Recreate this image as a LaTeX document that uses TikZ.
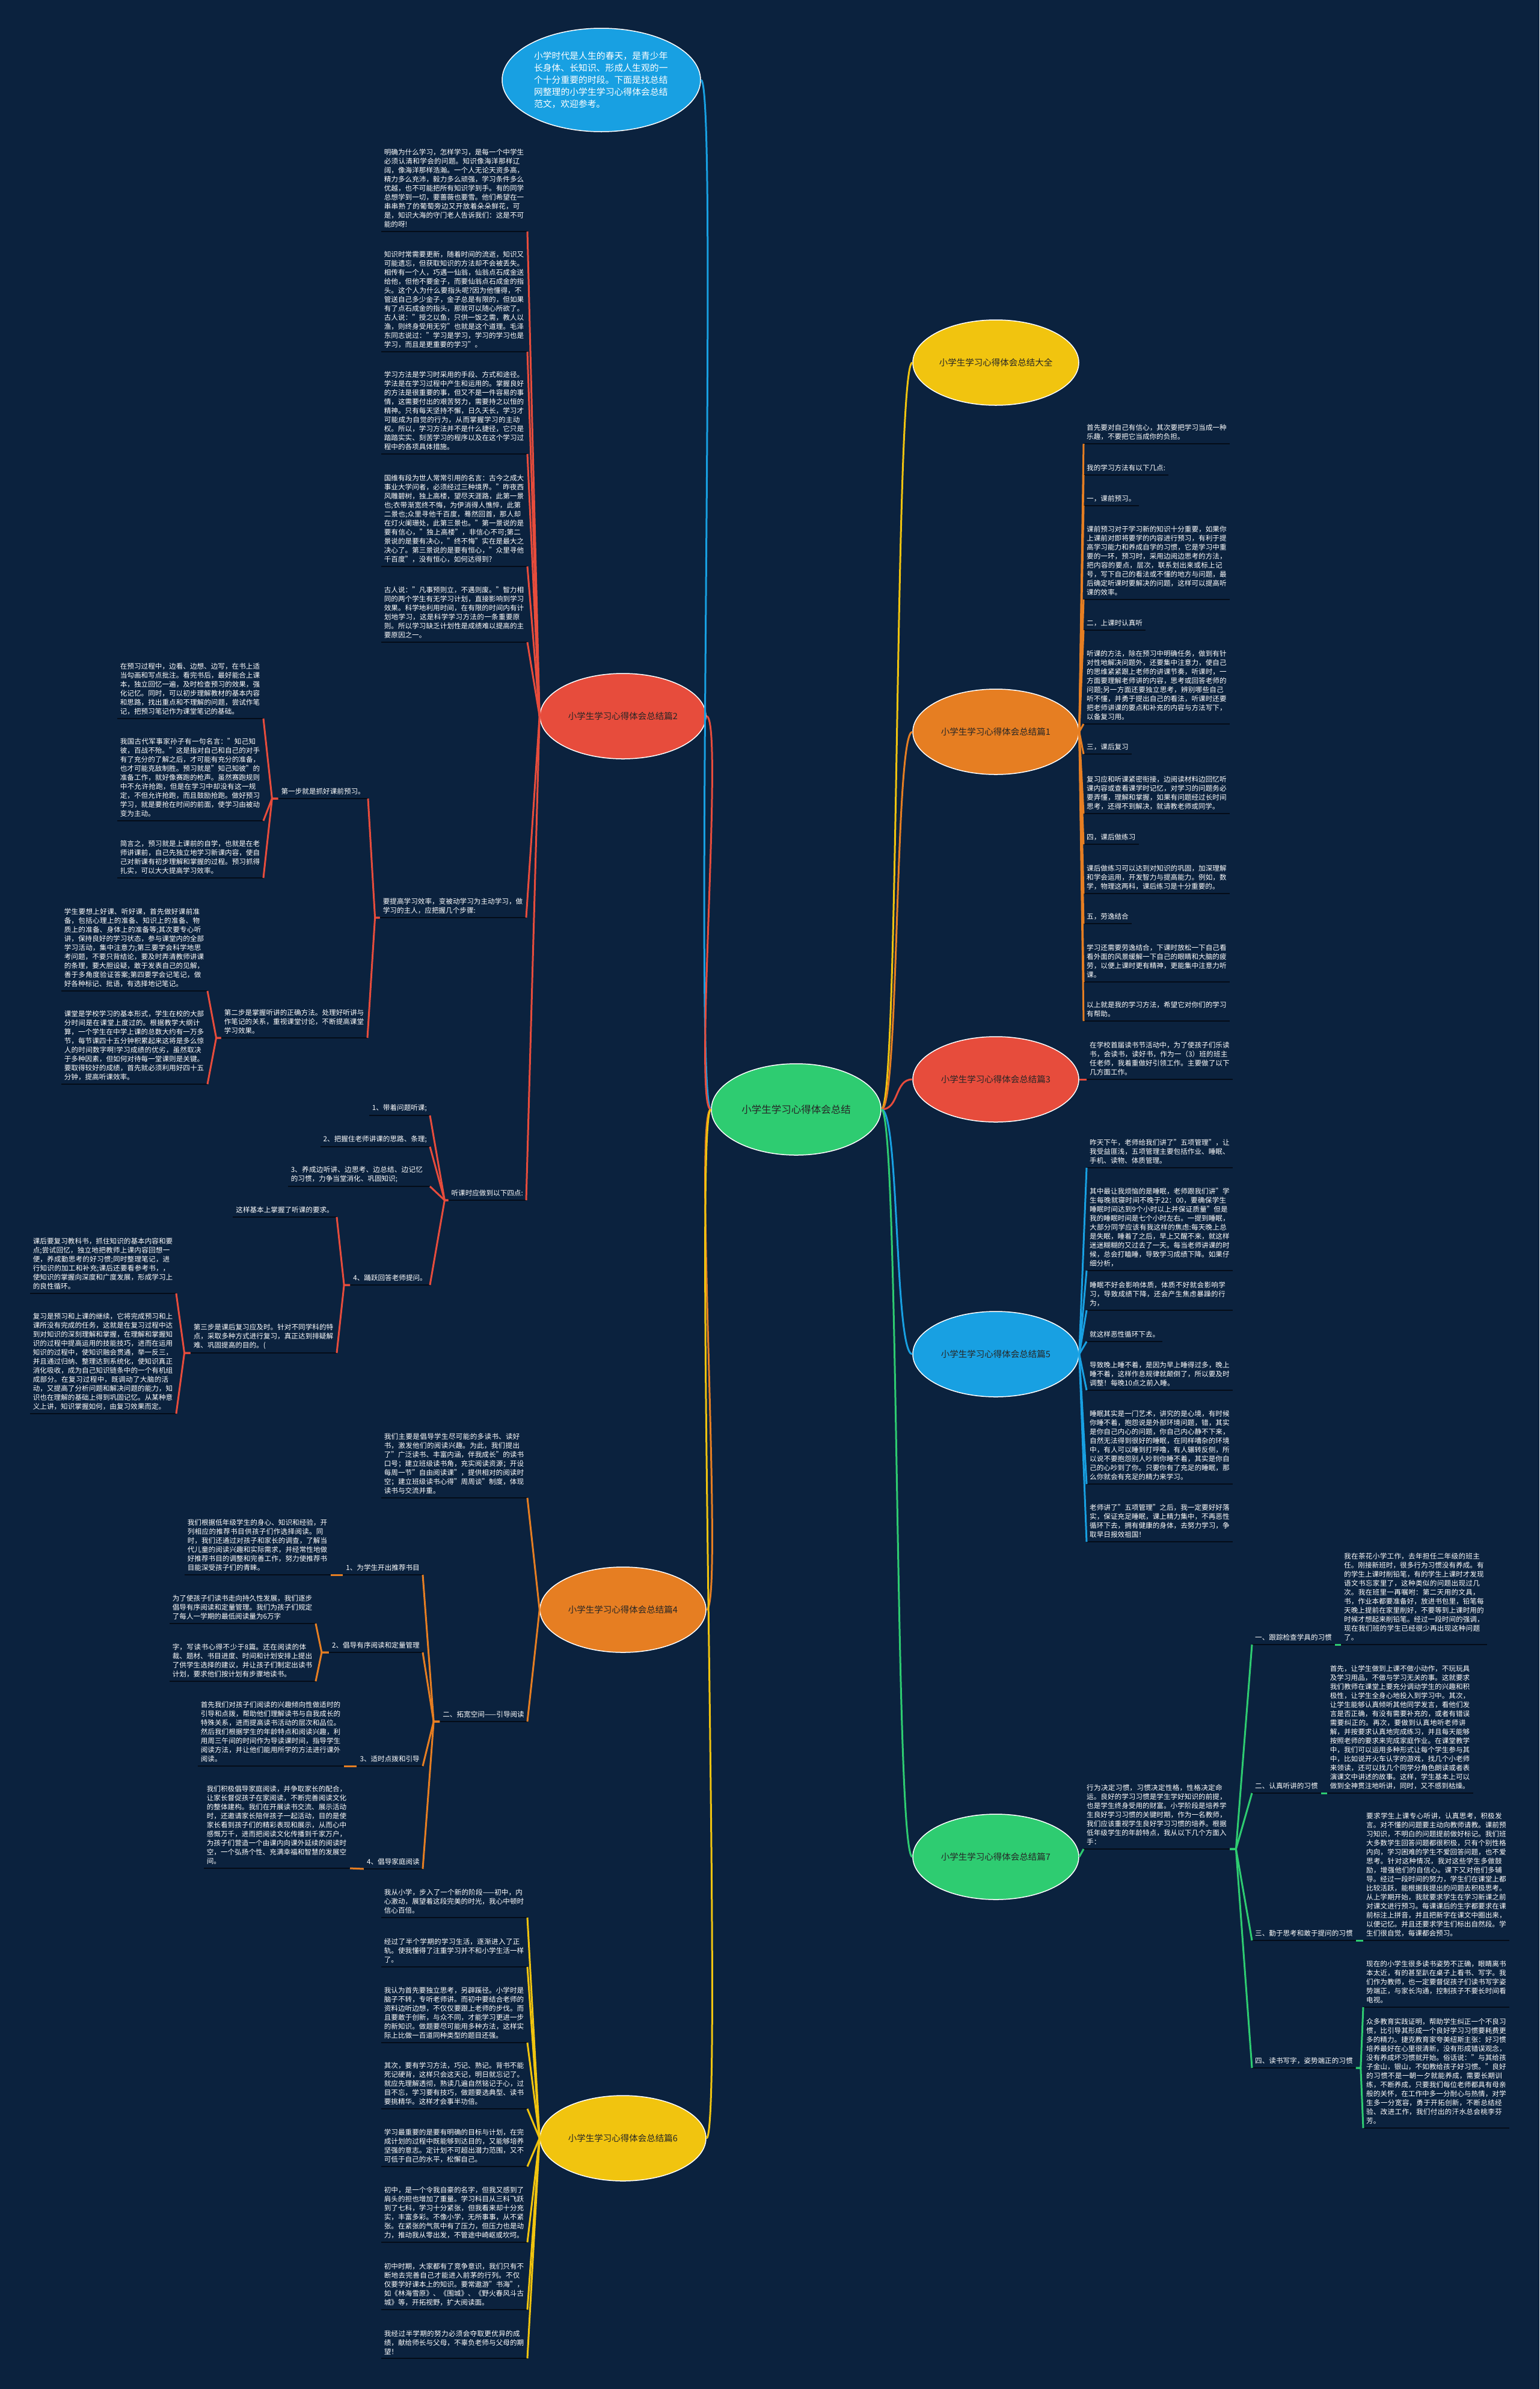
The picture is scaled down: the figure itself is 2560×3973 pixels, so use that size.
\documentclass[tikz,border=0pt]{standalone}
\usepackage{fontspec}
\setmainfont{Noto Sans CJK SC}
\usetikzlibrary{shapes.geometric}
\XeTeXlinebreaklocale "zh"
\XeTeXlinebreakskip=0pt plus 1pt

\definecolor{bgnavy}{RGB}{11,34,62}
\definecolor{ulblack}{RGB}{4,12,24}
\definecolor{cgreen}{RGB}{46,204,113}
\definecolor{cblue}{RGB}{24,160,226}
\definecolor{cyellow}{RGB}{241,196,15}
\definecolor{corange}{RGB}{230,126,34}
\definecolor{cred}{RGB}{231,76,60}

\tikzset{
  topic/.style={ellipse,draw=white,line width=1.5pt,minimum width=276pt,
    minimum height=142pt,inner sep=0pt,text=black!85,
    font=\fontsize{14.5}{18}\selectfont},
  ul/.style={append after command={\pgfextra{\draw[ulblack,line width=2.5pt]
    (\tikzlastnode.south west) -- (\tikzlastnode.south east);}}},
  tag/.style={ul,text=white,inner xsep=5pt,inner ysep=6pt,
    font=\fontsize{11.6}{15}\selectfont},
  leaf/.style={tag,text width=233pt,align=left},
  lk/.style={line width=3pt}
}

\begin{document}
\begin{tikzpicture}[x=1pt,y=-1pt]
\fill[bgnavy] (0,0) rectangle (2560,3973);
\useasboundingbox (0,0) rectangle (2560,3973);

% centre and topics
\node[topic,fill=cgreen,minimum width=282pt,minimum height=152pt,
  font=\fontsize{16.5}{20}\selectfont] (ctr) at (1324,1845) {小学生学习心得体会总结};
\node[ellipse,fill=cblue,draw=white,line width=1.5pt,minimum width=330pt,
  minimum height=172pt,inner sep=0pt,text=white,text width=224pt,align=left,
  font=\fontsize{14.8}{20}\selectfont] (intro) at (1000,133)
  {小学时代是人生的春天，是青少年长身体、长知识、形成人生观的一个十分重要的时段。下面是找总结网整理的小学生学习心得体会总结范文，欢迎参考。};
\node[topic,fill=cyellow] (p0) at (1656,603) {小学生学习心得体会总结大全};
\node[topic,fill=corange] (p1) at (1656,1217) {小学生学习心得体会总结篇1};
\node[topic,fill=cred] (p3) at (1656,1795) {小学生学习心得体会总结篇3};
\node[topic,fill=cblue] (p5) at (1656,2252) {小学生学习心得体会总结篇5};
\node[topic,fill=cgreen] (p7) at (1656,3088) {小学生学习心得体会总结篇7};
\node[topic,fill=cred] (p2) at (1036,1191) {小学生学习心得体会总结篇2};
\node[topic,fill=corange] (p4) at (1036,2677) {小学生学习心得体会总结篇4};
\node[topic,fill=cyellow] (p6) at (1036,3556) {小学生学习心得体会总结篇6};

\draw[lk,cblue] (ctr.west) .. controls +(-30,0) and +(30,0) .. (intro.east);
\foreach \t/\c in {p2/cred,p4/corange,p6/cyellow}
  \draw[lk,\c] (ctr.west) .. controls +(-30,0) and +(30,0) .. (\t.east);
\foreach \t/\c in {p0/cyellow,p1/corange,p3/cred,p5/cblue,p7/cgreen}
  \draw[lk,\c] (ctr.east) .. controls +(30,0) and +(-30,0) .. (\t.west);

% 篇2
\node[leaf,anchor=south east] (b1) at (877,385) {明确为什么学习，怎样学习，是每一个中学生必须认清和学会的问题。知识像海洋那样辽阔，像海洋那样浩瀚。一个人无论天资多高，精力多么充沛，毅力多么顽强，学习条件多么优越，也不可能把所有知识学到手。有的同学总想学到一切，要蔷薇也要雪。他们希望在一串串熟了的葡萄旁边又开放着朵朵鲜花，可是，知识大海的守门老人告诉我们：这是不可能的呀!};
\node[leaf,anchor=south east] (b2) at (877,585) {知识时常需要更新，随着时间的流逝，知识又可能遗忘，但获取知识的方法却不会被丢失。相传有一个人，巧遇一仙翁，仙翁点石成金送给他，但他不要金子，而要仙翁点石成金的指头。这个人为什么要指头呢?因为他懂得，不管送自己多少金子，金子总是有限的，但如果有了点石成金的指头，那就可以随心所欲了。古人说："授之以鱼，只供一饭之需，教人以渔，则终身受用无穷"也就是这个道理。毛泽东同志说过："学习是学习，学习的学习也是学习，而且是更重要的学习"。};
\node[leaf,anchor=south east] (b3) at (877,755) {学习方法是学习时采用的手段、方式和途径。学法是在学习过程中产生和运用的。掌握良好的方法是很重要的事，但又不是一件容易的事情，这需要付出的艰苦努力，需要持之以恒的精神。只有每天坚持不懈，日久天长，学习才可能成为自觉的行为，从而掌握学习的主动权。所以，学习方法并不是什么捷径，它只是踏踏实实、刻苦学习的程序以及在这个学习过程中的各项具体措施。};
\node[leaf,anchor=south east] (b4) at (877,942) {国维有段为世人常常引用的名言：古今之成大事业大学问者，必须经过三种境界。"昨夜西风雕碧树，独上高楼，望尽天涯路，此第一景也;衣带渐宽终不悔，为伊消得人憔悴，此第二景也;众里寻他千百度，蓦然回首，那人却在灯火阑珊处，此第三景也。"第一景说的是要有信心，"独上高楼"，非信心不可;第二景说的是要有决心，"终不悔"实在是最大之决心了。第三景说的是要有恒心，"众里寻他千百度"，没有恒心，如何达得到?};
\node[leaf,anchor=south east] (b5) at (877,1068) {古人说："凡事预则立，不遇则废。"智力相同的两个学生有无学习计划，直接影响到学习效果。科学地利用时间，在有限的时间内有计划地学习，这是科学学习方法的一条重要原则。所以学习缺乏计划性是成绩难以提高的主要原因之一。};
\node[leaf,anchor=south east] (yt) at (875,1526) {要提高学习效率，变被动学习为主动学习，做学习的主人，应把握几个步骤:};
\node[tag,anchor=south east] (tk) at (875,1996) {听课时应做到以下四点:};
\foreach \n in {b1,b2,b3,b4,b5,yt,tk}
  \draw[lk,cred] (p2.west) -- (\n.south east);

\node[tag,anchor=south east] (d1) at (612,1328) {第一步就是抓好课前预习。};
\node[leaf,anchor=south east] (d2) at (611,1726) {第二步是掌握听讲的正确方法。处理好听讲与作笔记的关系，重视课堂讨论，不断提高课堂学习效果。};
\foreach \n in {d1,d2}
  \draw[lk,cred] (yt.south west) -- ++(-8,0) -- (\n.south east);

\node[leaf,anchor=south east] (r1) at (438,1195) {在预习过程中，边看、边想、边写，在书上适当勾画和写点批注。看完书后，最好能合上课本，独立回忆一遍，及时检查预习的效果，强化记忆。同时，可以初步理解教材的基本内容和思路，找出重点和不理解的问题，尝试作笔记，把预习笔记作为课堂笔记的基础。};
\node[leaf,anchor=south east] (r2) at (438,1365) {我国古代军事家孙子有一句名言："知己知彼，百战不殆。"这是指对自己和自己的对手有了充分的了解之后，才可能有充分的准备，也才可能克敌制胜。预习就是"知己知彼"的准备工作，就好像赛跑的枪声。虽然赛跑规则中不允许抢跑，但是在学习中却没有这一规定，不但允许抢跑，而且鼓励抢跑。做好预习学习，就是要抢在时间的前面，使学习由被动变为主动。};
\node[leaf,anchor=south east] (r3) at (438,1460) {简言之，预习就是上课前的自学，也就是在老师讲课前，自己先独立地学习新课内容，使自己对新课有初步理解和掌握的过程。预习抓得扎实，可以大大提高学习效率。};
\foreach \n in {r1,r2,r3}
  \draw[lk,cred] (d1.south west) -- ++(-10,0) -- (\n.south east);

\node[leaf,anchor=south east] (q1) at (345,1648) {学生要想上好课、听好课，首先做好课前准备，包括心理上的准备、知识上的准备、物质上的准备、身体上的准备等;其次要专心听讲，保持良好的学习状态，参与课堂内的全部学习活动，集中注意力;第三要学会科学地思考问题，不要只背结论，要及时弄清教师讲课的条理，要大胆设疑，敢于发表自己的见解，善于多角度验证答案;第四要学会记笔记，做好各种标记、批语，有选择地记笔记。};
\node[leaf,anchor=south east] (q2) at (345,1803) {课堂是学校学习的基本形式，学生在校的大部分时间是在课堂上度过的。根据教学大纲计算，一个学生在中学上课的总数大约有一万多节，每节课四十五分钟积累起来这将是多么惊人的时间数字啊!学习成绩的优劣，虽然取决于多种因素，但如何对待每一堂课则是关键。要取得较好的成绩，首先就必须利用好四十五分钟，提高听课效率。};
\foreach \n in {q1,q2}
  \draw[lk,cred] (d2.south west) -- ++(-8,0) -- (\n.south east);

\node[tag,anchor=south east] (t1) at (715,1855) {1、带着问题听课;};
\node[tag,anchor=south east] (t2) at (715,1907) {2、把握住老师讲课的思路、条理;};
\node[leaf,text width=226pt,anchor=south east] (t3) at (715,1973) {3、养成边听讲、边思考、边总结、边记忆的习惯，力争当堂消化、巩固知识;};
\node[tag,anchor=south east] (t4) at (715,2137) {4、踊跃回答老师提问。};
\foreach \n in {t1,t2,t3,t4}
  \draw[lk,cred] (tk.south west) -- ++(-6,0) -- (\n.south east);

\node[tag,anchor=south east] (zy) at (560,2024) {这样基本上掌握了听课的要求。};
\node[leaf,anchor=south east] (d3) at (560,2250) {第三步是课后复习应及时。针对不同学科的特点，采取多种方式进行复习，真正达到排疑解难、巩固提高的目的。(};
\foreach \n in {zy,d3}
  \draw[lk,cred] (t4.south west) -- ++(-10,0) -- (\n.south east);

\node[leaf,anchor=south east] (h1) at (293,2151) {课后要复习教科书，抓住知识的基本内容和要点;尝试回忆，独立地把教师上课内容回想一便，养成勤思考的好习惯;同时整理笔记，进行知识的加工和补充;课后还要看参考书，，使知识的掌握向深度和广度发展，形成学习上的良性循环。};
\node[leaf,anchor=south east] (h2) at (293,2351) {复习是预习和上课的继续，它将完成预习和上课所没有完成的任务，这就是在复习过程中达到对知识的深刻理解和掌握，在理解和掌握知识的过程中提高运用的技能技巧，进而在运用知识的过程中，使知识融会贯通，举一反三，并且通过归纳、整理达到系统化，使知识真正消化吸收，成为自己知识链条中的一个有机组成部分。在复习过程中，既调动了大脑的活动，又提高了分析问题和解决问题的能力，知识也在理解的基础上得到巩固记忆。从某种意义上讲，知识掌握如何，由复习效果而定。};
\foreach \n in {h1,h2}
  \draw[lk,cred] (d3.south west) -- ++(-10,0) -- (\n.south east);

% 篇4
\node[leaf,anchor=south east] (s1) at (877,2491) {我们主要是倡导学生尽可能的多读书、读好书，激发他们的阅读兴趣。为此，我们提出了"广泛读书、丰富内涵，伴我成长"的读书口号；建立班级读书角，充实阅读资源；开设每周一节"自由阅读课"，提供相对的阅读时空；建立班级读书心得"周周谈"制度，体现读书与交流并重。};
\node[tag,anchor=south east] (kk) at (877,2863) {二、拓宽空间——引导阅读};
\foreach \n in {s1,kk}
  \draw[lk,corange] (p4.west) -- (\n.south east);

\node[tag,anchor=south east] (k1) at (703,2619) {1、为学生开出推荐书目};
\node[tag,anchor=south east] (k2) at (703,2748) {2、倡导有序阅读和定量管理};
\node[tag,anchor=south east] (k3) at (703,2937) {3、适时点拨和引导};
\node[tag,anchor=south east] (k4) at (703,3108) {4、倡导家庭阅读};
\foreach \n in {k1,k2,k3,k4}
  \draw[lk,corange] (kk.south west) -- ++(-10,0) -- (\n.south east);

\node[leaf,anchor=south east] (m1) at (550,2619) {我们根据低年级学生的身心、知识和经验，开列相应的推荐书目供孩子们作选择阅读。同时，我们还通过对孩子和家长的调查，了解当代儿童的阅读兴趣和实际需求，并经常性地做好推荐书目的调整和完善工作，努力使推荐书目能深受孩子们的青睐。};
\node[leaf,anchor=south east] (m2) at (525,2700) {为了使孩子们读书走向持久性发展，我们逐步倡导有序阅读和定量管理。我们为孩子们规定了每人一学期的最低阅读量为6万字};
\node[leaf,anchor=south east] (m3) at (525,2796) {字，写读书心得不少于8篇。还在阅读的体裁、题材、书目进度、时间和计划安排上提出了供学生选择的建议，并让孩子们制定出读书计划，要求他们按计划有步骤地读书。};
\node[leaf,anchor=south east] (m4) at (572,2937) {首先我们对孩子们阅读的兴趣倾向性做适时的引导和点拨，帮助他们理解读书与自我成长的特殊关系，进而提高读书活动的层次和品位。然后我们根据学生的年龄特点和阅读兴趣，利用周三午间的时间作为导读课时间，指导学生阅读方法，并让他们能用所学的方法进行课外阅读。};
\node[leaf,anchor=south east] (m5) at (582,3107) {我们积极倡导家庭阅读，并争取家长的配合，让家长督促孩子在家阅读，不断完善阅读文化的整体建构。我们在开展读书交流、展示活动时，还邀请家长陪伴孩子一起活动，目的是使家长看到孩子们的精彩表现和展示，从而心中感慨万千，进而把阅读文化传播到千家万户，为孩子们营造一个由课内向课外延续的阅读时空，一个弘扬个性、充满幸福和智慧的发展空间。};
\draw[lk,corange] (k1.south west) -- (m1.south east);
\foreach \n in {m2,m3}
  \draw[lk,corange] (k2.south west) -- ++(-12,0) -- (\n.south east);
\draw[lk,corange] (k3.south west) -- (m4.south east);
\draw[lk,corange] (k4.south west) -- (m5.south east);

% 篇6
\node[leaf,anchor=south east] (f1) at (877,3189) {我从小学，步入了一个新的阶段——初中，内心激动，展望着这段完美的时光，我心中顿时信心百倍。};
\node[leaf,anchor=south east] (f2) at (877,3271) {经过了半个学期的学习生活，逐渐进入了正轨。使我懂得了注重学习并不和小学生活一样了。};
\node[leaf,anchor=south east] (f3) at (877,3397) {我认为首先要独立思考，另辟蹊径。小学时是脑子不转，专听老师讲。而初中要结合老师的资料边听边想，不仅仅要跟上老师的步伐。而且要敢于创新，与众不同，才能学习更进一步的新知识。做题要尽可能用多种方法，这样实际上比做一百道同种类型的题目还强。};
\node[leaf,anchor=south east] (f4) at (877,3507) {其次，要有学习方法，巧记、熟记。背书不能死记硬背，这样只会这天记，明日就忘记了。就应先理解透彻，熟读几遍自然铭记于心，过目不忘，学习要有技巧，做题要选典型、读书要挑精华。这样才会事半功倍。};
\node[leaf,anchor=south east] (f5) at (877,3603) {学习最重要的是要有明确的目标与计划，在完成计划的过程中既能够到达目的，又能够培养坚强的意志。定计划不可超出潜力范围，又不可低于自己的水平，松懈自己。};
\node[leaf,anchor=south east] (f6) at (877,3729) {初中，是一个令我自豪的名字，但我又感到了肩头的担也增加了重量。学习科目从三科飞跃到了七科，学习十分紧张，但我看来却十分充实，丰富多彩。不像小学，无所事事，从不紧张。在紧张的气氛中有了压力，但压力也是动力，推动我从零出发，不管途中崎岖或坎坷。};
\node[leaf,anchor=south east] (f7) at (877,3841) {初中时期，大家都有了竞争意识，我们只有不断地去完善自己才能进入前茅的行列。不仅仅要学好课本上的知识。要常遨游"书海"，如《林海雪原》、《围城》、《野火春风斗古城》等，开拓视野，扩大阅读面。};
\node[leaf,anchor=south east] (f8) at (877,3922) {我经过半学期的努力必须会夺取更优异的成绩，献给师长与父母，不辜负老师与父母的期望！};
\foreach \n in {f1,f2,f3,f4,f5,f6,f7,f8}
  \draw[lk,cyellow] (p6.west) -- (\n.south east);

% 篇1
\node[leaf,anchor=south west] (a1) at (1802,738) {首先要对自己有信心，其次要把学习当成一种乐趣，不要把它当成你的负担。};
\node[tag,anchor=south west] (a2) at (1802,790) {我的学习方法有以下几点:};
\node[tag,anchor=south west] (a3) at (1802,841) {一，课前预习。};
\node[leaf,anchor=south west] (a4) at (1802,997) {课前预习对于学习新的知识十分重要，如果你上课前对即将要学的内容进行预习，有利于提高学习能力和养成自学的习惯，它是学习中重要的一环，预习时，采用边阅边思考的方法，把内容的要点，层次，联系划出来或标上记号，写下自己的看法或不懂的地方与问题，最后确定听课时要解决的问题，这样可以提高听课的效率。};
\node[tag,anchor=south west] (a5) at (1802,1048) {二，上课时认真听};
\node[leaf,anchor=south west] (a6) at (1802,1204) {听课的方法，除在预习中明确任务，做到有针对性地解决问题外，还要集中注意力，使自己的思维紧紧跟上老师的讲课节奏，听课时，一方面要理解老师讲的内容，思考或回答老师的问题;另一方面还要独立思考，辨别哪些自己听不懂，并勇于提出自己的看法，听课时还要把老师讲课的要点和补充的内容与方法写下，以备复习用。};
\node[tag,anchor=south west] (a7) at (1802,1254) {三，课后复习};
\node[leaf,anchor=south west] (a8) at (1802,1353) {复习应和听课紧密衔接，边阅读材料边回忆听课内容或查看课学时记忆，对学习的问题务必要弄懂，理解和掌握，如果有问题经过长时间思考，还得不到解决，就请教老师或同学。};
\node[tag,anchor=south west] (a9) at (1802,1404) {四，课后做练习};
\node[leaf,anchor=south west] (a10) at (1802,1486) {课后做练习可以达到对知识的巩固，加深理解和学会运用，开发智力与提高能力。例如，数学，物理这两科，课后练习是十分重要的。};
\node[tag,anchor=south west] (a11) at (1802,1536) {五，劳逸结合};
\node[leaf,anchor=south west] (a12) at (1802,1633) {学习还需要劳逸结合，下课时放松一下自己看看外面的风景缓解一下自己的眼睛和大脑的疲劳，以便上课时更有精神，更能集中注意力听课。};
\node[leaf,anchor=south west] (a13) at (1802,1698) {以上就是我的学习方法，希望它对你们的学习有帮助。};
\foreach \n in {a1,a2,a3,a4,a5,a6,a7,a8,a9,a10,a11,a12,a13}
  \draw[lk,corange] (p1.east) -- (\n.south west);

% 篇3
\node[leaf,anchor=south west] (c1) at (1807,1795) {在学校首届读书节活动中，为了使孩子们乐读书，会读书，读好书，作为一（3）班的班主任老师，我着重做好引领工作。主要做了以下几方面工作。};
\draw[lk,cred] (p3.east) -- (c1.south west);

% 篇5
\node[leaf,anchor=south west] (e1) at (1807,1942) {昨天下午，老师给我们讲了"五项管理"，让我受益匪浅，五项管理主要包括作业、睡眠、手机、读物、体质管理。};
\node[leaf,anchor=south west] (e2) at (1807,2113) {其中最让我烦恼的是睡眠，老师跟我们讲"学生每晚就寝时间不晚于22：00，要确保学生睡眠时间达到9个小时以上并保证质量"但是我的睡眠时间是七个小时左右。一提到睡眠，大部分同学应该有我这样的焦虑:每天晚上总是失眠，睡着了之后，早上又醒不来，就这样迷迷糊糊的又过去了一天。每当老师讲课的时候，总会打瞌睡，导致学习成绩下降。如果仔细分析，};
\node[leaf,anchor=south west] (e3) at (1807,2179) {睡眠不好会影响体质，体质不好就会影响学习，导致成绩下降，还会产生焦虑暴躁的行为，};
\node[tag,anchor=south west] (e4) at (1807,2231) {就这样恶性循环下去。};
\node[leaf,anchor=south west] (e5) at (1807,2312) {导致晚上睡不着，是因为早上睡得过多，晚上睡不着，这样作息规律就颠倒了，所以要及时调整！每晚10点之前入睡。};
\node[leaf,anchor=south west] (e6) at (1807,2468) {睡眠其实是一门艺术，讲究的是心境，有时候你睡不着，抱怨说是外部环境问题，错，其实是你自己内心的问题，你自己内心静不下来，自然无法得到很好的睡眠，在同样嘈杂的环境中，有人可以睡到打呼噜，有人辗转反侧，所以说不要抱怨别人吵到你睡不着，其实是你自己的心吵到了你。只要你有了充足的睡眠，那么你就会有充足的精力来学习。};
\node[leaf,anchor=south west] (e7) at (1807,2564) {老师讲了"五项管理"之后，我一定要好好落实，保证充足睡眠，课上精力集中，不再恶性循环下去，拥有健康的身体，去努力学习，争取早日报效祖国！};
\foreach \n in {e1,e2,e3,e4,e5,e6,e7}
  \draw[lk,cblue] (p5.east) -- (\n.south west);

% 篇7
\node[leaf,anchor=south west] (g0) at (1802,3075) {行为决定习惯，习惯决定性格，性格决定命运。良好的学习习惯是学生学好知识的前提，也是学生终身受用的财富。小学阶段是培养学生良好学习习惯的关键时期，作为一名教师，我们应该重视学生良好学习习惯的培养。根据低年级学生的年龄特点，我从以下几个方面入手：};
\draw[lk,cgreen] (p7.east) -- (g0.south west);
\node[tag,anchor=south west] (v1) at (2082,2735) {一、跟踪检查学具的习惯};
\node[tag,anchor=south west] (v2) at (2082,2982) {二、认真听讲的习惯};
\node[tag,anchor=south west] (v3) at (2082,3227) {三、勤于思考和敢于提问的习惯};
\node[tag,anchor=south west] (v4) at (2082,3439) {四、读书写字，姿势端正的习惯};
\foreach \n in {v1,v2,v3,v4}
  \draw[lk,cgreen] (g0.south east) -- ++(10,0) -- (\n.south west);

\node[leaf,anchor=south west] (w1) at (2230,2735) {我在茶花小学工作，去年担任二年级的班主任。刚接新班时，很多行为习惯没有养成。有的学生上课时削铅笔，有的学生上课时才发现语文书忘家里了，这种类似的问题出现过几次。我在班里一再嘱咐：第二天用的文具，书，作业本都要准备好，放进书包里，铅笔每天晚上提前在家里削好，不要等到上课时用的时候才想起来削铅笔。经过一段时间的强调，现在我们班的学生已经很少再出现这种问题了。};
\node[leaf,anchor=south east] (w2) at (2450,2982) {首先，让学生做到上课不做小动作，不玩玩具及学习用品，不做与学习无关的事。这就要求我们教师在课堂上要充分调动学生的兴趣和积极性，让学生全身心地投入到学习中。其次，让学生能够认真倾听其他同学发言，看他们发言是否正确，有没有需要补充的，或者有错误需要纠正的。再次，要做到认真地听老师讲解，并按要求认真地完成练习，并且每天能够按照老师的要求来完成家庭作业。在课堂教学中，我们可以运用多种形式让每个学生参与其中，比如说开火车认字的游戏，找几个小老师来领读，还可以找几个同学分角色朗读或者表演课文中讲述的故事。这样，学生基本上可以做到全神贯注地听讲，同时，又不感到枯燥。};
\node[leaf,anchor=south west] (w3) at (2267,3227) {要求学生上课专心听讲，认真思考，积极发言。对不懂的问题要主动向教师请教。课前预习知识，不明白的问题提前做好标记。我们班大多数学生回答问题都很积极，只有个别性格内向，学习困难的学生不爱回答问题，也不爱思考。针对这种情况，我对这些学生多做鼓励，增强他们的自信心。课下又对他们多辅导。经过一段时间的努力，学生们在课堂上都比较活跃，能根据我提出的问题去积极思考。从上学期开始，我就要求学生在学习新课之前对课文进行预习。每课课后的生字都要求在课前标注上拼音，并且把新字在课文中圈出来，以便记忆。并且还要求学生们标出自然段。学生们很自觉，每课都会预习。};
\node[leaf,anchor=south west] (w4) at (2267,3338) {现在的小学生很多读书姿势不正确，眼睛离书本太近，有的甚至趴在桌子上看书、写字。我们作为教师，也一定要督促孩子们读书写字姿势端正，与家长沟通，控制孩子不要长时间看电视。};
\node[leaf,anchor=south west] (w5) at (2267,3539) {众多教育实践证明，帮助学生纠正一个不良习惯，比引导其形成一个良好学习习惯要耗费更多的精力。捷克教育家夸美纽斯主张：好习惯培养最好在心里很清新，没有形成错误观念，没有养成坏习惯就开始。俗话说："与其给孩子金山，银山，不如教给孩子好习惯。"良好的习惯不是一朝一夕就能养成，需要长期训练，不断养成，只要我们每位老师都具有母亲般的关怀，在工作中多一分耐心与热情，对学生多一分宽容，勇于开拓创新，不断总结经验、改进工作，我们付出的汗水总会桃李芬芳。};
\draw[lk,cgreen] (v1.south east) -- (w1.south west);
\draw[lk,cgreen] (v2.south east) -- (w2.south west);
\draw[lk,cgreen] (v3.south east) -- (w3.south west);
\foreach \n in {w4,w5}
  \draw[lk,cgreen] (v4.south east) -- ++(8,0) -- (\n.south west);
\end{tikzpicture}
\end{document}
